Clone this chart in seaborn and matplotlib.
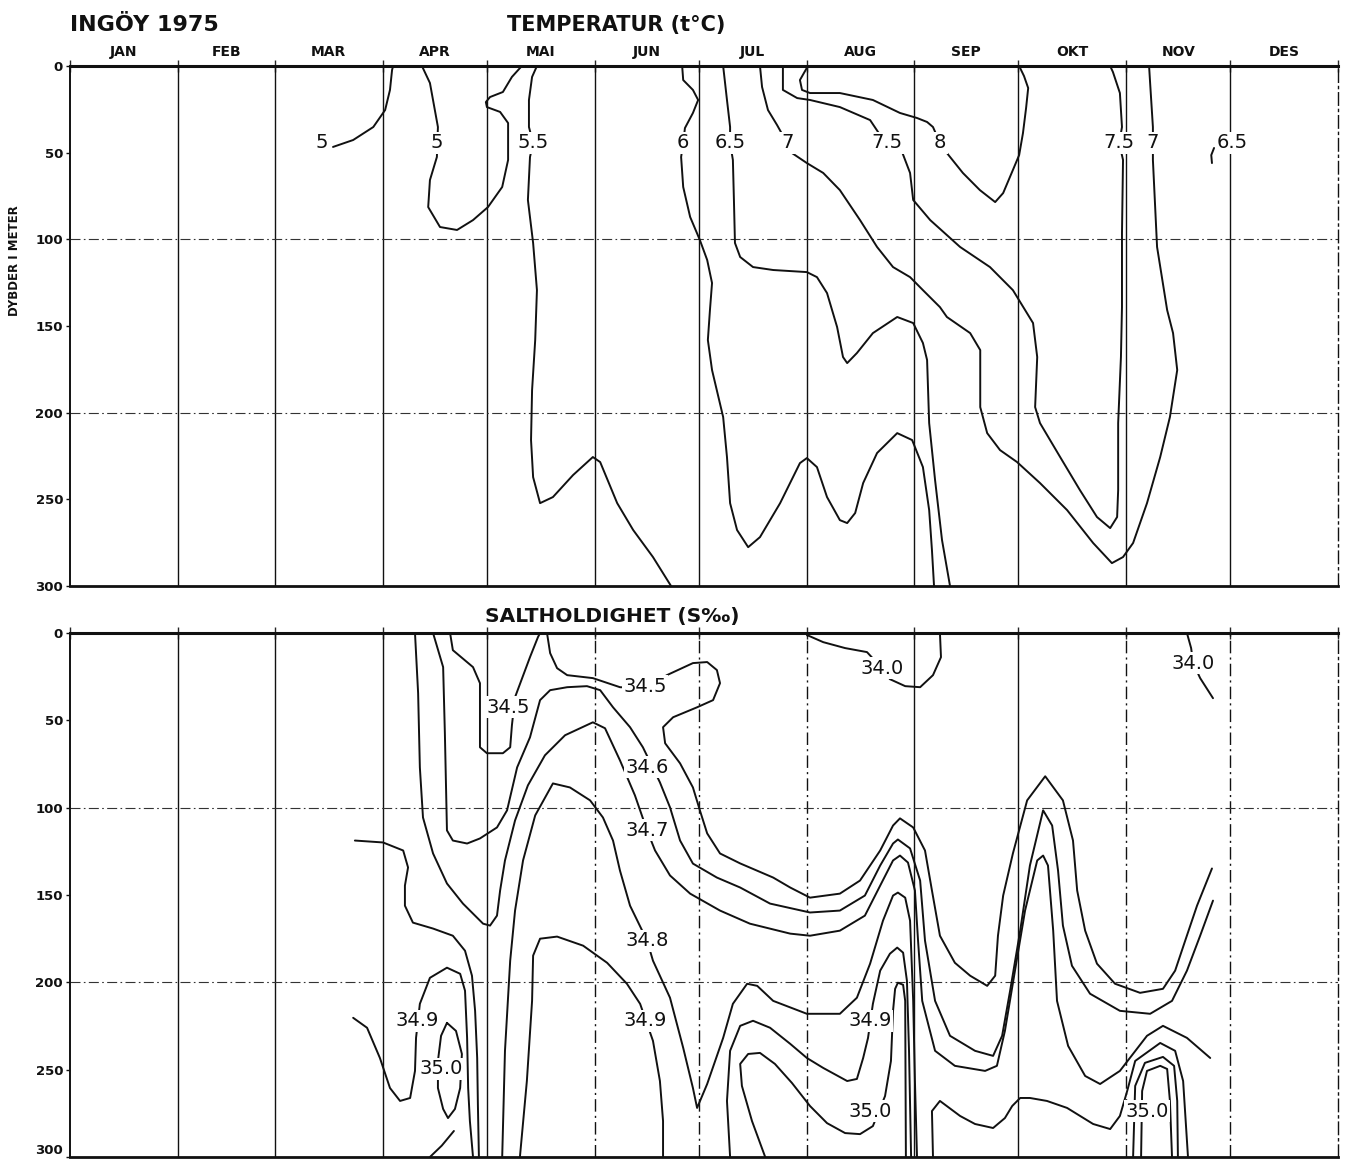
import matplotlib
matplotlib.use("Agg")
import matplotlib.pyplot as plt
import pandas as pd
import seaborn as sns

# ---------------------------------------------------------------- axes data
MONTHS = ["JAN", "FEB", "MAR", "APR", "MAI", "JUN", "JUL", "AUG", "SEP", "OKT", "NOV", "DES"]
MONTH_EDGES = [0, 31, 59, 90, 120, 151, 181, 212, 243, 273, 304, 334, 365]
DEPTH_TICKS = [0, 50, 100, 150, 200, 250, 300]

# ---------------------------------------------------------------- isotherms (day of year, depth m)
T_5A = [(75.7, 46.7), (81.5, 42.7), (87.3, 35.2), (90.7, 25.4), (92.1, 13.8), (92.7, 2.3), (93.0, 0)]
T_5B = [(101.3, 0), (103.6, 9.8), (105.9, 35.2), (105.6, 52.5), (103.6, 65.8), (103.1, 81.4),
        (106.5, 92.9), (111.4, 94.6), (116.0, 88.9), (120.3, 81.4), (124.4, 69.8), (126.1, 54.2),
        (126.1, 32.9), (123.8, 26.5), (120.0, 23.7), (119.7, 20.8), (120.9, 17.9), (124.6, 15.0),
        (127.2, 6.3), (129.5, 1.2), (130.1, 0)]
T_55 = [(134.4, 0), (133.0, 6.3), (132.1, 19.6), (132.1, 35.2), (133.3, 44.4), (132.4, 52.5),
        (131.8, 77.3), (133.3, 102.1), (134.4, 129.3), (133.9, 158.1), (133.0, 187.0), (132.7, 215.8),
        (133.3, 237.2), (135.3, 252.2), (139.0, 248.7), (144.8, 236.0), (150.5, 225.6), (152.6, 228.5),
        (157.5, 252.2), (162.1, 267.7), (167.8, 283.3), (173.0, 300)]
T_6 = [(176.2, 0), (176.5, 8.1), (179.3, 13.8), (180.8, 19.6), (179.3, 27.1), (177.0, 35.8),
       (176.5, 44.4), (175.9, 52.5), (176.5, 69.8), (178.5, 87.1), (181.3, 100.4), (183.4, 111.9),
       (184.8, 125.2), (184.2, 140.8), (183.6, 158.1), (184.8, 175.4), (188.0, 202.5), (189.1, 225.6),
       (190.0, 252.2), (192.0, 267.7), (195.2, 277.6), (198.6, 271.8), (204.4, 252.2), (210.1, 229.1),
       (212.1, 226.2), (215.0, 231.4), (217.9, 248.7), (221.6, 262.0), (223.7, 263.7), (226.0, 257.9),
       (228.3, 240.6), (232.3, 223.3), (238.1, 211.8), (242.4, 215.8), (245.5, 231.4), (247.3, 256.2),
       (248.1, 279.3), (248.7, 300)]
T_65 = [(188.0, 0), (189.1, 19.6), (190.0, 35.2), (190.0, 44.4), (190.8, 54.2), (191.1, 77.3),
        (191.4, 102.1), (192.9, 110.2), (196.6, 116.0), (202.4, 117.7), (212.1, 118.9), (215.0, 121.8),
        (217.9, 131.0), (220.8, 150.6), (222.5, 167.9), (223.7, 171.4), (226.5, 165.6), (231.1, 154.1),
        (238.1, 144.8), (242.7, 148.3), (245.5, 159.8), (246.7, 169.6), (247.3, 206.0), (249.0, 238.9),
        (251.0, 273.5), (253.3, 300)]
T_7 = [(198.6, 0), (199.2, 12.1), (200.9, 25.4), (203.5, 34.0), (206.4, 44.4), (207.8, 50.2),
       (212.1, 56.0), (216.8, 61.7), (221.6, 71.6), (227.4, 88.9), (232.3, 104.4), (236.9, 116.0),
       (241.8, 121.8), (245.5, 129.3), (250.4, 139.1), (252.4, 144.8), (259.1, 154.1), (262.0, 163.9),
       (262.0, 196.8), (264.0, 211.8), (267.7, 221.6), (272.6, 228.5), (279.2, 240.6), (287.0, 256.2),
       (294.5, 275.2), (299.9, 286.8), (303.1, 283.3), (306.0, 275.2), (310.0, 252.2), (313.8, 225.6),
       (316.6, 202.5), (318.7, 175.4), (317.5, 154.1), (315.8, 140.8), (312.9, 104.4), (311.7, 54.2),
       (311.7, 44.4), (311.7, 35.2), (310.9, 9.8), (310.6, 0)]
T_75 = [(205.2, 0), (205.2, 13.8), (209.3, 18.5), (213.0, 19.6), (221.6, 23.7), (230.3, 31.2),
        (232.6, 38.1), (235.2, 44.4), (239.5, 49.6), (241.8, 61.7), (242.7, 77.3), (247.6, 88.9),
        (256.2, 104.4), (264.8, 116.0), (271.4, 129.3), (277.2, 148.3), (278.4, 167.9), (277.8, 196.8),
        (279.2, 206.0), (285.0, 225.6), (290.7, 244.7), (295.6, 260.2), (299.4, 266.6), (301.4, 260.2),
        (301.7, 244.7), (301.7, 206.0), (302.5, 167.9), (302.8, 139.1), (302.8, 96.4), (303.1, 54.2),
        (302.0, 44.4), (302.8, 35.2), (302.2, 15.6), (300.2, 3.5), (299.4, 0)]
T_8 = [(212.4, 0), (210.1, 8.1), (210.7, 13.8), (213.0, 15.6), (221.6, 15.6), (231.1, 19.6),
       (238.9, 27.1), (243.8, 30.0), (246.7, 32.3), (248.4, 35.2), (250.4, 44.4), (252.4, 50.2),
       (257.0, 61.7), (261.9, 71.6), (266.3, 78.5), (268.6, 73.3), (271.4, 60.0), (273.2, 51.4),
       (274.3, 38.7), (275.2, 24.2), (275.8, 12.7), (274.6, 5.8), (273.2, 0)]
T_65_STUB = [(329.3, 47.3), (328.5, 51.4), (328.7, 56.0)]

TEMP_LINES = [T_5A, T_5B, T_55, T_6, T_65, T_7, T_75, T_8, T_65_STUB]
TEMP_LABELS = [("5", 72.5, 44.4), ("5", 105.6, 44.4), ("5.5", 133.3, 44.4), ("6", 176.5, 44.4),
               ("6.5", 190.0, 44.4), ("7", 206.4, 44.4), ("7.5", 235.2, 44.4), ("8", 250.4, 44.4),
               ("7.5", 302.0, 44.4), ("7", 311.7, 44.4), ("6.5", 334.5, 44.4)]

# ---------------------------------------------------------------- isohalines (day of year, depth m)
S_340A = [(212.1, 1.1), (216.8, 5.2), (223.1, 8.6), (229.4, 10.9), (233.7, 20.1), (236.0, 26.4),
          (240.4, 30.4), (244.7, 31.0), (248.4, 24.1), (250.7, 13.8), (250.4, 0)]
S_340B = [(321.5, 0), (322.7, 8.6), (323.3, 17.2), (325.3, 25.8), (329.0, 37.3)]
S_345A = [(109.4, 0), (110.2, 9.8), (116.0, 19.5), (118.0, 28.7), (118.0, 65.4), (120.0, 68.8),
          (124.6, 68.8), (126.7, 65.4), (127.2, 52.8), (128.1, 36.7), (132.4, 13.8), (134.7, 2.3),
          (135.3, 0)]
S_345B = [(137.3, 0), (138.2, 11.5), (140.2, 20.1), (143.1, 24.1), (150.5, 25.8), (158.3, 31.0),
          (165.5, 31.6), (171.8, 24.1), (179.3, 17.2), (183.4, 16.6), (186.2, 21.2), (187.1, 28.7),
          (185.1, 38.4), (180.5, 42.5), (173.6, 48.2), (170.7, 53.9), (171.3, 63.1), (175.6, 74.6),
          (179.3, 88.4), (181.3, 101.5), (183.4, 114.7), (187.1, 126.2), (192.9, 131.9), (202.4, 140.0),
          (207.3, 145.7), (213.0, 151.5), (221.6, 149.2), (227.4, 141.7), (233.2, 124.5), (236.9, 110.2),
          (238.9, 106.1), (242.7, 111.3), (246.1, 124.5), (248.1, 147.4), (250.4, 173.3), (254.7, 188.8),
          (259.1, 196.2), (264.0, 202.0), (266.3, 196.2), (267.1, 173.3), (268.6, 150.3), (271.4, 126.2),
          (275.5, 95.8), (280.7, 82.0), (285.8, 95.8), (288.7, 118.8), (289.9, 147.4), (292.2, 170.4),
          (295.6, 189.3), (300.8, 200.8), (308.0, 206.0), (314.6, 203.7), (318.1, 193.3), (321.0, 176.1),
          (324.4, 156.1), (328.7, 134.8)]
S_346 = [(104.5, 0), (107.4, 19.5), (107.9, 57.4), (108.5, 113.0), (110.2, 118.8), (114.3, 120.5),
         (118.0, 117.6), (122.9, 111.3), (125.8, 101.5), (128.7, 76.9), (132.4, 59.7), (135.3, 38.4),
         (138.2, 32.7), (143.1, 31.0), (148.8, 30.4), (152.6, 32.7), (156.3, 42.5), (161.2, 53.9),
         (164.9, 65.4), (169.8, 85.5), (172.7, 99.8), (175.6, 118.8), (179.3, 132.0), (186.2, 140.0),
         (192.9, 145.7), (201.5, 154.9), (213.0, 160.0), (221.6, 158.9), (228.8, 150.3), (233.2, 133.1),
         (236.9, 120.5), (238.3, 118.2), (241.8, 123.3), (244.7, 141.7), (246.1, 176.1), (249.0, 210.6),
         (253.3, 230.6), (260.5, 239.2), (265.7, 242.1), (268.3, 230.6), (270.6, 204.8), (273.5, 170.4),
         (276.3, 133.1), (280.1, 101.5), (282.7, 110.2), (284.4, 136.0), (285.8, 167.5), (288.4, 190.5),
         (293.6, 206.5), (302.2, 216.3), (310.9, 218.0), (317.2, 210.6), (321.5, 193.3), (325.3, 173.3),
         (329.0, 153.2)]
S_347 = [(99.3, 0), (100.2, 34.4), (100.7, 76.9), (101.6, 105.6), (104.5, 126.2), (108.5, 143.4),
         (113.1, 154.9), (118.9, 166.4), (120.9, 167.5), (122.9, 161.8), (123.8, 147.4), (125.2, 130.2),
         (128.1, 107.3), (131.8, 87.2), (136.7, 70.0), (142.5, 58.5), (150.5, 51.1), (154.0, 54.5),
         (158.3, 72.9), (162.6, 92.9), (166.1, 113.0), (168.4, 124.5), (172.7, 138.8), (178.5, 149.2),
         (187.1, 158.9), (195.7, 166.4), (207.3, 172.1), (213.0, 173.3), (221.6, 170.4), (228.8, 161.8),
         (233.2, 144.6), (236.9, 130.2), (238.9, 127.4), (241.2, 131.4), (243.2, 147.4), (244.1, 176.1),
         (245.3, 210.6), (249.0, 239.2), (254.7, 247.8), (263.4, 250.7), (266.8, 247.8), (269.1, 227.8),
         (272.0, 193.3), (274.9, 158.9), (278.4, 130.2), (280.1, 127.4), (281.5, 133.1), (283.0, 170.4),
         (284.1, 210.6), (287.3, 236.4), (292.2, 253.6), (296.5, 258.2), (302.2, 250.7), (310.0, 230.6),
         (314.6, 224.9), (321.5, 231.8), (328.2, 243.3)]
S_348A = [(82.0, 118.8), (90.1, 119.9), (95.9, 124.5), (97.3, 134.2), (96.4, 144.6), (96.4, 156.1),
          (98.7, 165.8), (104.5, 169.2), (110.2, 173.3), (113.7, 181.9), (115.7, 196.2), (116.6, 216.3),
          (117.2, 243.3), (117.4, 269.7), (117.7, 300)]
S_348B = [(124.4, 300), (125.2, 239.2), (126.7, 187.6), (128.1, 158.9), (130.4, 130.2), (133.9, 104.4),
          (139.0, 86.1), (143.9, 88.4), (149.7, 95.8), (153.4, 105.6), (156.3, 118.8), (158.3, 136.0),
          (161.2, 156.1), (166.1, 176.1), (167.8, 187.6), (172.7, 208.8), (176.5, 237.5), (179.3, 260.5),
          (180.5, 271.9), (183.4, 258.2), (188.0, 231.8), (190.8, 212.3), (194.9, 200.8), (197.8, 202.0),
          (202.4, 210.6), (212.1, 218.0), (221.6, 218.0), (226.5, 208.8), (230.3, 189.3), (234.0, 164.7),
          (236.9, 150.3), (238.3, 148.6), (240.4, 151.5), (241.8, 164.7), (242.7, 210.6), (243.2, 256.5),
          (243.8, 300)]
S_349A = [(81.5, 220.3), (85.5, 226.0), (89.2, 243.3), (92.1, 260.5), (95.0, 267.9), (97.9, 266.2),
          (99.3, 250.7), (99.6, 231.8), (100.7, 212.3), (103.6, 197.4), (108.5, 191.6), (112.3, 195.1),
          (113.7, 204.8), (114.3, 231.8), (114.6, 260.5), (115.1, 279.4), (116.0, 300)]
S_349B = [(129.5, 300), (131.5, 256.5), (133.0, 210.6), (133.3, 184.7), (135.3, 175.0), (140.2, 173.8),
          (147.7, 179.0), (154.6, 188.8), (160.3, 200.8), (164.1, 212.3), (167.8, 233.5), (169.8, 256.5),
          (170.7, 279.4), (170.7, 300)]
S_349C = [(190.0, 300), (189.1, 267.9), (190.0, 239.2), (192.9, 224.9), (196.6, 222.0), (201.5, 226.0),
          (207.3, 235.2), (212.1, 243.3), (216.8, 249.0), (223.7, 256.5), (226.5, 255.3), (228.3, 243.3),
          (229.7, 231.8), (231.1, 212.3), (233.2, 193.3), (236.0, 183.6), (238.1, 180.1), (239.8, 183.0),
          (240.9, 199.1), (241.5, 239.2), (242.1, 300)]
S_349D = [(248.4, 300), (248.1, 273.7), (250.4, 267.9), (256.2, 276.5), (260.5, 281.1), (265.7, 283.4),
          (269.1, 277.7), (271.2, 270.8), (273.5, 266.2), (276.3, 266.2), (281.2, 267.9), (287.0, 271.9),
          (294.5, 281.1), (299.4, 284.0), (302.2, 276.5), (304.3, 262.2), (306.6, 245.0), (313.8, 234.7),
          (318.1, 239.2), (320.4, 256.5), (321.8, 300)]
S_350A = [(108.5, 223.2), (106.8, 230.6), (105.9, 245.0), (105.9, 260.5), (107.4, 272.5), (108.8, 277.7),
          (110.8, 272.5), (112.3, 260.5), (112.8, 241.0), (111.1, 227.8), (108.5, 223.2)]
S_350B = [(103.6, 300), (107.0, 293.5), (110.5, 285.1)]
S_350C = [(200.1, 300), (196.3, 279.4), (193.4, 259.3), (192.9, 246.7), (195.2, 241.0), (198.6, 240.4),
          (202.9, 246.7), (207.8, 257.6), (213.0, 270.8), (217.9, 280.6), (223.1, 286.3), (227.4, 286.9),
          (231.1, 282.3), (234.6, 265.1), (236.3, 245.0), (236.9, 216.3), (237.5, 203.7), (238.3, 200.2),
          (239.8, 201.4), (240.4, 210.6), (240.6, 300)]
S_350D = [(306.0, 300), (306.6, 259.3), (309.4, 246.1), (314.6, 242.7), (317.8, 247.8), (318.7, 267.9),
          (318.9, 300)]
S_350E = [(308.3, 300), (308.6, 262.2), (310.0, 250.7), (313.8, 247.8), (315.8, 249.6), (316.6, 267.9),
          (317.2, 300)]

SALT_LINES = [S_340A, S_340B, S_345A, S_345B, S_346, S_347, S_348A, S_348B, S_349A, S_349B,
              S_349C, S_349D, S_350A, S_350B, S_350C, S_350D, S_350E]
SALT_LABELS = [("34.5", 126.1, 42.5), ("34.5", 165.5, 30.4), ("34.6", 166.1, 76.9),
               ("34.7", 166.1, 113.0), ("34.8", 166.1, 176.1), ("34.9", 165.5, 222.0),
               ("34.9", 99.9, 222.0), ("35.0", 106.8, 249.6), ("34.0", 233.7, 20.1),
               ("34.0", 323.3, 17.2), ("34.9", 230.3, 222.0), ("35.0", 230.3, 273.7),
               ("35.0", 310.0, 273.7)]

# ---------------------------------------------------------------- style
sns.set_theme(style="white")
plt.rcParams["font.family"] = ["DejaVu Sans"]
INK = "#111111"

fig = plt.figure(figsize=(13.49, 11.62), dpi=100)
ax_t = fig.add_axes([0.0519, 0.4957, 0.9400, 0.4475])
ax_b = fig.add_axes([0.0519, 0.0043, 0.9400, 0.4509])

dashdot = (0, (9, 3, 1.5, 3))


def frame(ax, dashed_edges):
    ax.set_xlim(0, 365)
    ax.set_ylim(300, 0)
    for i, d in enumerate(MONTH_EDGES[1:-1], start=1):
        ls = dashdot if i in dashed_edges else "-"
        ax.axvline(d, color=INK, lw=1.0, ls=ls, zorder=1)
    for v in (100, 200):
        ax.axhline(v, color="#333333", lw=0.8, ls=dashdot, zorder=1)
    ax.set_yticks(DEPTH_TICKS)
    ax.set_yticklabels([str(v) for v in DEPTH_TICKS], fontsize=9.5, fontweight="bold")
    ax.set_xticks(MONTH_EDGES)
    ax.set_xticklabels([])
    ax.tick_params(axis="y", direction="out", length=3, width=1, pad=2, left=True, colors=INK)
    ax.tick_params(axis="x", direction="inout", length=8, width=1, top=True, bottom=False)
    for side, lw in (("top", 2.2), ("left", 1.4), ("bottom", 2.0), ("right", 1.0)):
        ax.spines[side].set_visible(True)
        ax.spines[side].set_color(INK)
        ax.spines[side].set_linewidth(lw)
    ax.spines["right"].set_linestyle(dashdot)


def draw(ax, lines, labels):
    for pts in lines:
        df = pd.DataFrame(pts, columns=["day", "depth"])
        sns.lineplot(data=df, x="day", y="depth", sort=False, estimator=None, ax=ax,
                     color=INK, lw=1.4, zorder=3)
    for txt, d, z in labels:
        ax.text(d, z, txt, ha="center", va="center", fontsize=14, color=INK, zorder=5,
                bbox=dict(boxstyle="square,pad=0.08", fc="white", ec="none"))
    ax.set_xlabel("")
    ax.set_ylabel("")


frame(ax_t, dashed_edges=set())
frame(ax_b, dashed_edges={5, 6, 7, 10, 11})
draw(ax_t, TEMP_LINES, TEMP_LABELS)
draw(ax_b, SALT_LINES, SALT_LABELS)

# the lowest depth label of the lower panel sits just above its baseline
ax_b.yaxis.get_major_ticks()[-1].label1.set_verticalalignment("bottom")

# month names above the upper panel
for name, a, b in zip(MONTHS, MONTH_EDGES[:-1], MONTH_EDGES[1:]):
    ax_t.text((a + b) / 2, 1.027, name, transform=ax_t.get_xaxis_transform(),
              ha="center", va="center", fontsize=10, fontweight="bold", color=INK)

fig.text(0.052, 0.973, "INGÖY 1975", ha="left", va="baseline", fontsize=16,
         fontweight="bold", color=INK)
fig.text(0.457, 0.973, "TEMPERATUR (t°C)", ha="center", va="baseline", fontsize=15,
         fontweight="bold", color=INK)
fig.text(0.454, 0.465, "SALTHOLDIGHET (S‰)", ha="center", va="baseline", fontsize=14.5,
         fontweight="bold", color=INK)
fig.text(0.011, 0.776, "DYBDER I METER", rotation=90, ha="center", va="center",
         fontsize=8.5, fontweight="bold", color=INK)

fig.savefig("out.png", dpi=100, facecolor="white")
